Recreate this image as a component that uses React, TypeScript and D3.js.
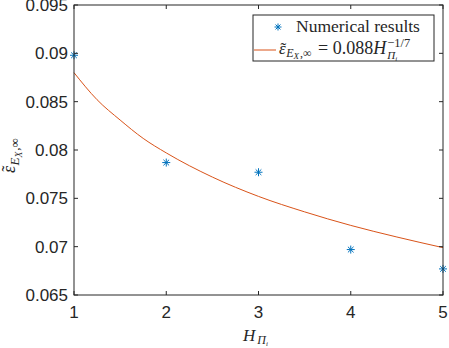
import React from 'react';
import * as d3 from 'd3';

// measured points
const hValues = [1, 2, 3, 4, 5];
const errValues = [0.0898, 0.0787, 0.0777, 0.0697, 0.0677];

// fitted curve
const fitH = [1, 1.25, 1.5, 1.75, 2, 2.5, 3, 3.5, 4, 4.5, 5];
const fitErr = [0.088, 0.0852, 0.0831, 0.0812, 0.0797, 0.0772, 0.0752, 0.0736, 0.0722, 0.071, 0.0699];

const xTicks = [1, 2, 3, 4, 5];
const yTicks = [0.065, 0.07, 0.075, 0.08, 0.085, 0.09, 0.095];
const yTickLabels = ['0.065', '0.07', '0.075', '0.08', '0.085', '0.09', '0.095'];

const BLUE = '#0072BD';
const ORANGE = '#D95319';
const AXIS = '#262626';
const SERIF = 'Liberation Serif, Times New Roman, serif';

// lays out a little math expression piece by piece, measuring as it goes
const mathText = (parent, x0, y0, pieces) => {
    let cx = x0;
    const marks = {};
    pieces.forEach((p) => {
        const sx = p.at ? marks[p.at] + (p.dx || 0) : cx + (p.dx || 0);
        const t = parent.append('text')
            .attr('x', sx)
            .attr('y', y0 + (p.dy || 0))
            .style('font-family', SERIF)
            .style('font-size', p.size + 'px')
            .style('font-style', p.italic ? 'italic' : 'normal')
            .style('white-space', 'pre')
            .attr('fill', AXIS)
            .text(p.t);
        const w = t.node().getComputedTextLength();
        if (p.mark) marks[p.mark] = sx + w;
        if (p.tilde) {
            parent.append('text')
                .attr('x', sx + w / 2 + 1)
                .attr('y', y0 + (p.dy || 0) + p.size * 0.02)
                .attr('text-anchor', 'middle')
                .style('font-family', SERIF)
                .style('font-size', p.size + 'px')
                .attr('fill', AXIS)
                .text('\u02DC');
        }
        cx = p.at ? Math.max(cx, sx + w) : sx + w;
    });
    return cx;
};

const App = () => {
    const svgRef = React.useRef(null);

    const W = 449, H = 348;
    const margin = {top: 5, right: 6, bottom: 53, left: 74};
    const width = W - margin.left - margin.right;
    const height = H - margin.top - margin.bottom;

    React.useEffect(() => {
        const svgEl = d3.select(svgRef.current);
        svgEl.selectAll("*").remove();

        const svg = svgEl.append('g')
            .attr('transform', `translate(${margin.left},${margin.top})`);

        const x = d3.scaleLinear().domain([1, 5]).range([0, width]);
        const y = d3.scaleLinear().domain([0.065, 0.095]).range([height, 0]);

        // fit curve
        const line = d3.line()
            .x((d) => x(d[0]))
            .y((d) => y(d[1]))
            .curve(d3.curveMonotoneX);

        svg.append('path')
            .datum(fitH.map((h, i) => [h, fitErr[i]]))
            .attr('d', line)
            .attr('fill', 'none')
            .attr('stroke', ORANGE)
            .attr('stroke-width', 1);

        // asterisk markers
        const star = (g, cx, cy, r) => {
            for (let k = 0; k < 4; k++) {
                const a = k * Math.PI / 4;
                g.append('line')
                    .attr('x1', cx - r * Math.cos(a)).attr('y1', cy - r * Math.sin(a))
                    .attr('x2', cx + r * Math.cos(a)).attr('y2', cy + r * Math.sin(a))
                    .attr('stroke', BLUE)
                    .attr('stroke-width', 1);
            }
        };
        const pts = svg.append('g');
        hValues.forEach((h, i) => star(pts, x(h), y(errValues[i]), 4));

        // box
        svg.append('rect')
            .attr('x', 0).attr('y', 0)
            .attr('width', width).attr('height', height)
            .attr('fill', 'none')
            .attr('stroke', AXIS)
            .attr('stroke-width', 1);

        // ticks (inward, all four sides)
        const tl = 4;
        const ticks = svg.append('g').attr('stroke', AXIS).attr('stroke-width', 1);
        xTicks.forEach((t) => {
            ticks.append('line').attr('x1', x(t)).attr('x2', x(t)).attr('y1', height).attr('y2', height - tl);
            ticks.append('line').attr('x1', x(t)).attr('x2', x(t)).attr('y1', 0).attr('y2', tl);
        });
        yTicks.forEach((t) => {
            ticks.append('line').attr('x1', 0).attr('x2', tl).attr('y1', y(t)).attr('y2', y(t));
            ticks.append('line').attr('x1', width).attr('x2', width - tl).attr('y1', y(t)).attr('y2', y(t));
        });

        const font = 'Liberation Sans, Arial, sans-serif';
        svg.append('g').selectAll('text')
            .data(xTicks)
            .enter()
                .append('text')
                .attr('x', (d) => x(d))
                .attr('y', height + 23)
                .attr('text-anchor', 'middle')
                .style('font-family', font)
                .style('font-size', '17px')
                .attr('fill', AXIS)
                .text((d) => d);

        svg.append('g').selectAll('text')
            .data(yTicks)
            .enter()
                .append('text')
                .attr('x', -6)
                .attr('y', (d) => y(d) + 6)
                .attr('text-anchor', 'end')
                .style('font-family', font)
                .style('font-size', '17px')
                .attr('fill', AXIS)
                .text((d, i) => yTickLabels[i]);

        // x label
        mathText(svgEl, 243, 341, [
            {t: 'H', size: 17, italic: true},
            {t: 'Π', size: 12, italic: true, dy: 3, dx: 2},
            {t: 'i', size: 7, italic: true, dy: 5},
        ]);

        // y label
        const yl = svgEl.append('g').attr('transform', 'translate(15,173) rotate(-90)');
        mathText(yl, 0, 0, [
            {t: 'ε', size: 18, italic: true, tilde: true},
            {t: 'E', size: 13, italic: true, dy: 4, dx: 0.5},
            {t: 'X', size: 9.5, italic: true, dy: 6.5},
            {t: ',∞', size: 13, dy: 4, dx: 1},
        ]);

        // legend
        const lg = svgEl.append('g');
        lg.append('rect')
            .attr('x', 253).attr('y', 15)
            .attr('width', 181).attr('height', 46)
            .attr('fill', 'white')
            .attr('stroke', AXIS)
            .attr('stroke-width', 1);
        star(lg, 278, 27, 3.5);
        lg.append('text')
            .attr('x', 296).attr('y', 32)
            .style('font-family', SERIF)
            .style('font-size', '17.5px')
            .attr('fill', AXIS)
            .text('Numerical results');
        lg.append('line')
            .attr('x1', 254).attr('x2', 276)
            .attr('y1', 50).attr('y2', 50)
            .attr('stroke', ORANGE);
        mathText(lg, 279, 54, [
            {t: 'ε', size: 17, italic: true, tilde: true},
            {t: 'E', size: 12, italic: true, dy: 3, dx: 0.5},
            {t: 'X', size: 9, italic: true, dy: 5},
            {t: ',∞', size: 12, dy: 3, dx: 1},
            {t: ' = 0.088', size: 18, dx: 2},
            {t: 'H', size: 18, italic: true, mark: 'H'},
            {t: 'Π', size: 11, italic: true, dy: 5, at: 'H', dx: 1, mark: 'P'},
            {t: 'i', size: 7, italic: true, dy: 7, at: 'P'},
            {t: '−1/7', size: 12.5, dy: -7, at: 'H', dx: 1},
        ]);

    // eslint-disable-next-line react-hooks/exhaustive-deps
    }, []);

    return <svg ref={svgRef} width={W} height={H}
        style={{position: 'absolute', left: 0, top: 0, background: 'white'}} />;
};

export default App;
